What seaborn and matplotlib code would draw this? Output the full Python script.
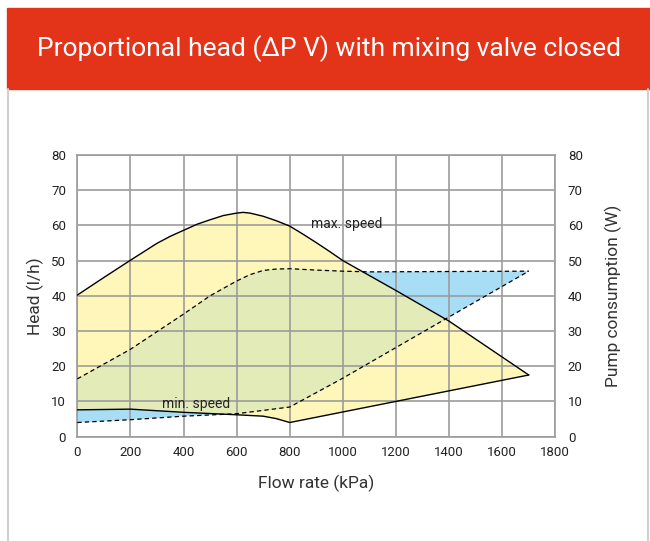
import numpy as np
import pandas as pd
import matplotlib
matplotlib.use('Agg')
import matplotlib.pyplot as plt
from matplotlib.patches import Polygon, Rectangle
from matplotlib.lines import Line2D
import seaborn as sns

# Curve points
head_max_x = [0, 100, 200, 300, 350, 400, 450, 500, 550, 600, 625, 650, 700, 750, 800,
              850, 900, 950, 1000, 1200, 1400, 1700]
head_max_y = [40.2, 45.2, 50.1, 54.9, 56.9, 58.6, 60.3, 61.6, 62.8, 63.5, 63.7, 63.5, 62.6,
              61.3, 59.8, 57.5, 55.1, 52.6, 50.0, 41.5, 32.8, 17.5]

head_min_x = [0, 200, 400, 600, 700, 750, 800, 1700]
head_min_y = [7.6, 7.8, 6.9, 6.2, 5.8, 5.1, 4.0, 17.5]

power_max_x = [0, 200, 400, 500, 600, 650, 700, 750, 800, 900, 1000, 1100, 1700]
power_max_y = [16.4, 24.8, 34.8, 40.0, 44.2, 46.0, 47.2, 47.6, 47.7, 47.3, 47.0, 46.8, 47.0]

power_min_x = [0, 200, 400, 600, 800, 900, 1000, 1200, 1400, 1700]
power_min_y = [4.0, 4.8, 5.8, 6.5, 8.4, 12.5, 16.6, 25.3, 34.0, 47.0]

x_ticks = [0, 200, 400, 600, 800, 1000, 1200, 1400, 1600, 1800]
y_ticks = [0, 10, 20, 30, 40, 50, 60, 70, 80]

title = 'Proportional head (ΔP V) with mixing valve closed'

sns.set_theme(style='white')
plt.rcParams['font.family'] = ['Roboto', 'DejaVu Sans']

YELLOW = '#fff6b9'
BLUE = '#a8ddf6'
GREEN = '#e3ecb9'
GRID = '#9c9c9c'

fig = plt.figure(figsize=(6.5, 5.41), dpi=100)
ax = fig.add_axes([77.3 / 650, 104.4 / 541, 478 / 650, 281.6 / 541])

# header bar and card edges
fig.patches.append(Rectangle((7 / 650, (541 - 89) / 541), 1, 81 / 541,
                             transform=fig.transFigure, color='#e3341a', zorder=0))
fig.lines.append(Line2D([8 / 650, 8 / 650], [0, (541 - 89) / 541],
                        transform=fig.transFigure, color='#d0d0d0', lw=1.5))
fig.lines.append(Line2D([647.5 / 650, 647.5 / 650], [0, (541 - 89) / 541],
                        transform=fig.transFigure, color='#d0d0d0', lw=1.5))
fig.text(328.5 / 650, 1 - 49 / 541, title, color='white', fontsize=19,
         ha='center', va='center')

# fills: head area (yellow), power area (blue), overlap (green)
head_poly = np.column_stack([head_max_x + head_min_x[::-1], head_max_y + head_min_y[::-1]])
power_poly = np.column_stack([power_max_x + power_min_x[::-1], power_max_y + power_min_y[::-1]])

head_patch = Polygon(head_poly, closed=True, facecolor=YELLOW, edgecolor='none', zorder=1)
ax.add_patch(head_patch)
ax.add_patch(Polygon(power_poly, closed=True, facecolor=BLUE, edgecolor='none', zorder=1))
overlap = Polygon(power_poly, closed=True, facecolor=GREEN, edgecolor='none', zorder=1.1)
ax.add_patch(overlap)
overlap.set_clip_path(head_patch)

# curves
df_head_max = pd.DataFrame({'q': head_max_x, 'h': head_max_y})
df_head_min = pd.DataFrame({'q': head_min_x, 'h': head_min_y})
df_pow_max = pd.DataFrame({'q': power_max_x, 'p': power_max_y})
df_pow_min = pd.DataFrame({'q': power_min_x, 'p': power_min_y})

sns.lineplot(data=df_head_max, x='q', y='h', ax=ax, color='black', lw=1, sort=False, zorder=3)
sns.lineplot(data=df_head_min, x='q', y='h', ax=ax, color='black', lw=1, sort=False, zorder=3)
for d in (df_pow_max, df_pow_min):
    sns.lineplot(data=d, x='q', y='p', ax=ax, color='black', lw=0.9, sort=False,
                 zorder=3, dashes=False, linestyle=(0, (3.5, 2.5)))

ax.text(879, 59.3, 'max. speed', fontsize=10, color='#222222', va='baseline', ha='left', zorder=4)
ax.text(318, 8.0, 'min. speed', fontsize=10, color='#222222', va='baseline', ha='left', zorder=4)

# axes styling
ax.set_xlim(0, 1800)
ax.set_ylim(0, 80)
ax.set_xticks(x_ticks)
ax.set_yticks(y_ticks)
ax.set_axisbelow('line')
ax.grid(True, color=GRID, lw=1.2)
for s in ax.spines.values():
    s.set_color(GRID)
    s.set_linewidth(1.2)
ax.tick_params(length=0, labelsize=9.5, labelcolor='#222222')
ax.tick_params(axis='y', pad=8)
ax.tick_params(axis='x', pad=7)
ax.set_xlabel('Flow rate (kPa)', fontsize=12.5, color='#333333', labelpad=11)
ax.set_ylabel('Head (l/h)', fontsize=12.5, color='#333333', labelpad=5)

ax2 = ax.twinx()
ax2.set_ylim(0, 80)
ax2.set_yticks(y_ticks)
ax2.tick_params(length=0, labelsize=9.5, labelcolor='#222222', pad=9)
for s in ax2.spines.values():
    s.set_visible(False)
ax2.set_ylabel('Pump consumption (W)', fontsize=12.5, color='#333333', labelpad=16)

fig.savefig('out.png', dpi=100)
